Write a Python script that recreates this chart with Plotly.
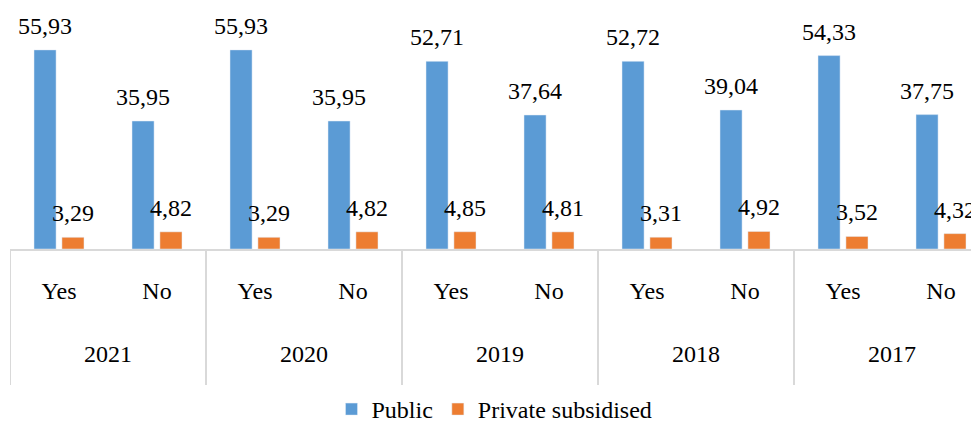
import plotly.graph_objects as go

years = ['2021', '2020', '2019', '2018', '2017']
answers = ['Yes', 'No']
public = [55.93, 35.95, 55.93, 35.95, 52.71, 37.64, 52.72, 39.04, 54.33, 37.75]
private = [3.29, 4.82, 3.29, 4.82, 4.85, 4.81, 3.31, 4.92, 3.52, 4.32]

FONT = 'Liberation Serif'
BLUE = '#5b9bd5'
ORANGE = '#ed7d31'
GRID = '#d9d9d9'

pos = list(range(len(public)))
labels = [answers[i % 2] for i in pos]


def fmt(v):
    return f'{v:.2f}'.replace('.', ',')


fig = go.Figure()
fig.add_trace(go.Bar(x=pos, y=public, name='Public', marker_color=BLUE))
fig.add_trace(go.Bar(x=pos, y=private, name='Private subsidised', marker_color=ORANGE))

annotations = []
for i in pos:
    for vals, shift in ((public, -14), (private, 14)):
        annotations.append(dict(x=i, y=vals[i], text=fmt(vals[i]), showarrow=False,
                                xshift=shift, yshift=9, yanchor='bottom',
                                font=dict(family=FONT, size=24, color='black')))

# page body has an 8px margin, so the figure is drawn 8px smaller and shifted
plot_h = 239
for k, yr in enumerate(years):
    annotations.append(dict(x=2 * k + 0.5, y=0, xref='x', yref='paper', text=yr,
                            showarrow=False, yanchor='middle', yshift=-105,
                            font=dict(family=FONT, size=24, color='black')))

shapes = []
for k in range(len(years) + 1):
    shapes.append(dict(type='line', xref='x', yref='paper', x0=2 * k - 0.5, x1=2 * k - 0.5,
                       y0=0, y1=-136 / plot_h, line=dict(color=GRID, width=2)))

fig.update_layout(
    width=971, height=424,
    margin=dict(l=2, r=0, t=2, b=183),
    plot_bgcolor='white', paper_bgcolor='white',
    barmode='group', bargap=0.43, bargroupgap=0.21,
    font=dict(family=FONT, size=24, color='black'),
    xaxis=dict(range=[-0.5, -0.5 + 969 / 98], tickvals=pos, ticktext=labels,
               showline=True, linecolor=GRID, linewidth=2, showgrid=False, zeroline=False,
               ticks='outside', ticklen=19, tickcolor='rgba(0,0,0,0)',
               tickfont=dict(family=FONT, size=24, color='black')),
    yaxis=dict(range=[0, plot_h / 3.56], visible=False, showgrid=False),
    legend=dict(orientation='h', x=0.5, xanchor='center', yref='container', y=0.0,
                yanchor='bottom', font=dict(family=FONT, size=24)),
    annotations=annotations,
    shapes=shapes,
    showlegend=True,
)

fig.write_html('out.html')
